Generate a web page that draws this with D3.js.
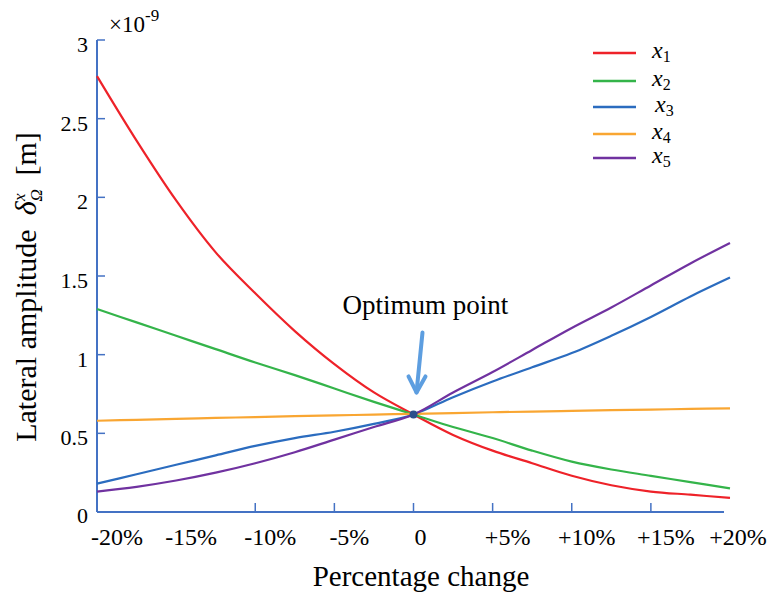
<!DOCTYPE html>
<html>
<head>
<meta charset="utf-8">
<script src="https://cdn.jsdelivr.net/npm/d3@7"></script>
<style>
  body { margin: 0; background: #fff; }
  text { font-family: "Liberation Serif", "Times New Roman", serif; fill: #000; }
</style>
</head>
<body>
<div class="chart"></div>
<script>
// percentage change of each parameter
var pct = [-20, -17.5, -15, -12.5, -10, -7.5, -5, -2.5, 0, 2.5, 5, 7.5, 10, 12.5, 15, 17.5, 20];

// lateral amplitude, x 1e-9 m
var x1 = [2.77, 2.36, 1.98, 1.65, 1.39, 1.15, 0.94, 0.76, 0.62, 0.49, 0.39, 0.31, 0.23, 0.17, 0.13, 0.11, 0.09];
var x2 = [1.29, 1.205, 1.12, 1.035, 0.95, 0.87, 0.785, 0.70, 0.62, 0.54, 0.47, 0.39, 0.32, 0.27, 0.23, 0.19, 0.15];
var x3 = [0.18, 0.24, 0.30, 0.36, 0.42, 0.47, 0.51, 0.56, 0.62, 0.73, 0.83, 0.92, 1.01, 1.12, 1.24, 1.37, 1.49];
var x4 = [0.58, 0.586, 0.592, 0.598, 0.603, 0.609, 0.614, 0.619, 0.624, 0.629, 0.634, 0.638, 0.643, 0.647, 0.651, 0.655, 0.659];
var x5 = [0.13, 0.16, 0.20, 0.25, 0.31, 0.38, 0.46, 0.54, 0.62, 0.76, 0.89, 1.03, 1.17, 1.30, 1.44, 1.58, 1.71];

var seriesNames = ["1", "2", "3", "4", "5"];
var seriesColors = ["#ee2229", "#34b44a", "#2b6cbf", "#f9a632", "#7032a0"];

var xTicks = [-20, -15, -10, -5, 0, 5, 10, 15, 20];
var xTickLabels = ["-20%", "-15%", "-10%", "-5%", "0", "+5%", "+10%", "+15%", "+20%"];
var yTicks = [0, 0.5, 1, 1.5, 2, 2.5, 3];
var yTickLabels = ["0", "0.5", "1", "1.5", "2", "2.5", "3"];

var optimum = {p: 0, v: 0.62};

var width = 773, height = 594;
var axisColor = "#4472c4";

var svg = d3.select(".chart")
  .append("svg")
  .attr("width", width)
  .attr("height", height);

var x = d3.scaleLinear().domain([-20, 20]).range([97, 730]);
var y = d3.scaleLinear().domain([0, 3]).range([512, 40]);

// axes
svg.append("line")
  .attr("x1", x(-20)).attr("x2", x(20) - 6)
  .attr("y1", y(0)).attr("y2", y(0))
  .attr("stroke", axisColor).attr("stroke-width", 2);

svg.append("line")
  .attr("x1", x(-20)).attr("x2", x(-20))
  .attr("y1", y(0)).attr("y2", y(3))
  .attr("stroke", axisColor).attr("stroke-width", 2);

// x ticks point up into the plot (none drawn at -20, -15 and +20 in the original)
svg.selectAll(".xtick")
  .data(xTicks.filter(function(d){ return d > -15 && d < 20; }))
  .enter().append("line")
  .attr("x1", function(d){ return x(d); })
  .attr("x2", function(d){ return x(d); })
  .attr("y1", y(0)).attr("y2", y(0) - 9)
  .attr("stroke", axisColor).attr("stroke-width", 1.5);

svg.selectAll(".xlab")
  .data(xTicks)
  .enter().append("text")
  .attr("x", function(d, i){ return x(d) + (d === 0 ? 7 : (d === 20 ? 8 : (d === -20 ? 20 : 15))); })
  .attr("y", 545)
  .attr("text-anchor", "middle")
  .attr("font-size", 24)
  .text(function(d, i){ return xTickLabels[i]; });

svg.selectAll(".ytick")
  .data(yTicks.filter(function(d){ return d > 0; }))
  .enter().append("line")
  .attr("x1", x(-20)).attr("x2", x(-20) + 8)
  .attr("y1", function(d){ return y(d); })
  .attr("y2", function(d){ return y(d); })
  .attr("stroke", axisColor).attr("stroke-width", 1.5);

svg.selectAll(".ylab")
  .data(yTicks)
  .enter().append("text")
  .attr("x", function(d){ return d === 0 ? 88 : 88; })
  .attr("y", function(d){ return y(d) + (d === 0 ? 11 : 12); })
  .attr("text-anchor", "end")
  .attr("font-size", 22)
  .text(function(d, i){ return yTickLabels[i]; });

// exponent
var expo = svg.append("text")
  .attr("x", 109).attr("y", 32)
  .attr("font-size", 23);
expo.append("tspan").text("\u00d710");
expo.append("tspan").attr("dy", -11).attr("font-size", 17).text("-9");

// axis titles
svg.append("text")
  .attr("x", 421).attr("y", 586)
  .attr("text-anchor", "middle")
  .attr("font-size", 29)
  .text("Percentage change");

var ylab = svg.append("text")
  .attr("transform", "translate(36,287) rotate(-90)")
  .attr("text-anchor", "middle")
  .attr("font-size", 30);
ylab.append("tspan").text("Lateral amplitude");
ylab.append("tspan").attr("dx", 14).attr("font-style", "italic").text("\u03b4");
ylab.append("tspan").attr("font-style", "italic").attr("font-size", 17).attr("dy", 6).text("\u03a9");
ylab.append("tspan").attr("font-style", "italic").attr("font-size", 17).attr("dx", -12).attr("dy", -17).text("x");
ylab.append("tspan").attr("dx", 18).attr("dy", 11).text("[m]");

// lines
var allSeries = [x1, x2, x3, x4, x5];
var line = d3.line()
  .x(function(d, i){ return x(pct[i]); })
  .y(function(d){ return y(d); })
  .curve(d3.curveCatmullRom.alpha(0.5));

svg.selectAll(".series")
  .data(allSeries)
  .enter().append("path")
  .attr("fill", "none")
  .attr("stroke", function(d, i){ return seriesColors[i]; })
  .attr("stroke-width", 2.2)
  .attr("d", line);

// optimum point marker and arrow
svg.append("circle")
  .attr("cx", x(optimum.p)).attr("cy", y(optimum.v))
  .attr("r", 4)
  .attr("fill", "#2c4f8c");

var ax = x(optimum.p), ay = y(optimum.v);
svg.append("path")
  .attr("d", "M" + (ax + 9) + "," + (ay - 82) + "L" + (ax + 3) + "," + (ay - 22))
  .attr("stroke", "#5d9ee0").attr("stroke-width", 4).attr("fill", "none")
  .attr("stroke-linecap", "round");
svg.append("path")
  .attr("d", "M" + (ax - 5) + "," + (ay - 38) + "L" + (ax + 3) + "," + (ay - 22) + "L" + (ax + 12) + "," + (ay - 38))
  .attr("stroke", "#5d9ee0").attr("stroke-width", 4).attr("fill", "none")
  .attr("stroke-linecap", "round").attr("stroke-linejoin", "round");

svg.append("text")
  .attr("x", ax + 12).attr("y", ay - 100)
  .attr("text-anchor", "middle")
  .attr("font-size", 27)
  .text("Optimum point");

// legend
var legendY = [53, 81, 107, 134, 158];
var legend = svg.selectAll(".legend")
  .data(seriesNames)
  .enter().append("g")
  .attr("transform", function(d, i){ return "translate(593," + legendY[i] + ")"; });

legend.append("line")
  .attr("x1", 0).attr("x2", 43)
  .attr("stroke", function(d, i){ return seriesColors[i]; })
  .attr("stroke-width", 2.5);

var lt = legend.append("text")
  .attr("x", function(d, i){ return i === 2 ? 62 : 59; })
  .attr("y", 5)
  .attr("font-size", 24);
lt.append("tspan").attr("font-style", "italic").text("x");
lt.append("tspan").attr("font-size", 16).attr("dy", 4).text(function(d){ return d; });
</script>
</body>
</html>
